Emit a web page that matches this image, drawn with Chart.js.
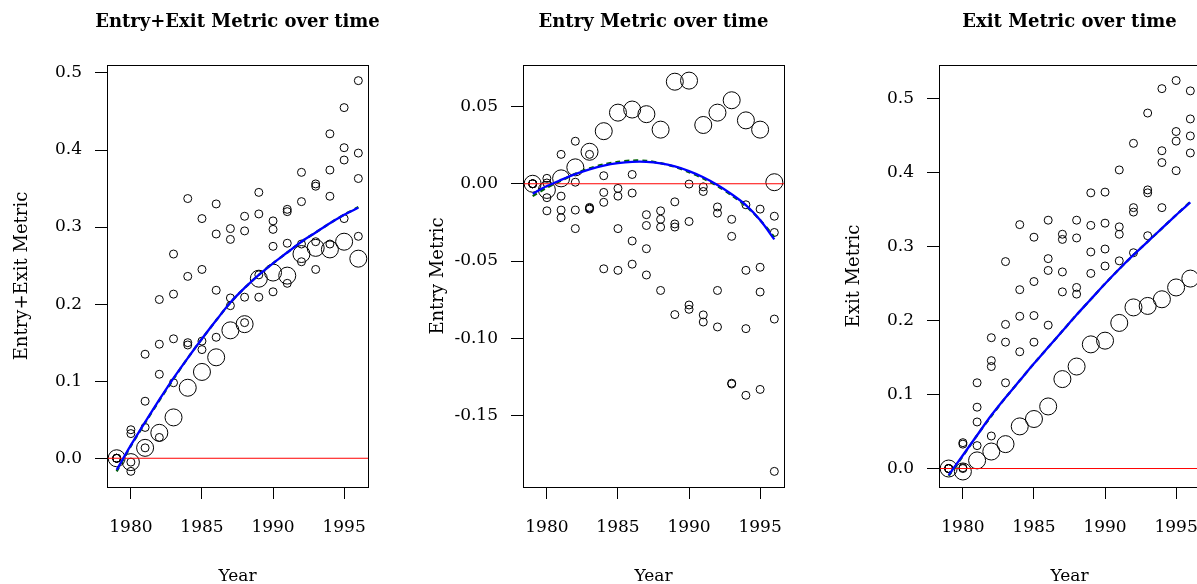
<!DOCTYPE html>
<html>
<head>
<meta charset="utf-8">
<script src="https://cdn.jsdelivr.net/npm/chart.js@4.4.1/dist/chart.umd.min.js"></script>
<style>
  html, body { margin: 0; padding: 0; background: #fff; overflow: hidden; width: 1197px; height: 584px; }
  .panel { position: absolute; top: 0; width: 398px; height: 584px; }
</style>
</head>
<body>
<div class="panel" style="left:0px"><canvas id="pBoth" width="398" height="584"></canvas></div>
<div class="panel" style="left:416px"><canvas id="pEntry" width="398" height="584"></canvas></div>
<div class="panel" style="left:832px"><canvas id="pExit" width="398" height="584"></canvas></div>
<script>
// years on the x axis
var years = [1979, 1980, 1981, 1982, 1983, 1984, 1985, 1986, 1987, 1988, 1989, 1990, 1991, 1992, 1993, 1994, 1995, 1996];
var xTicks = [1980, 1985, 1990, 1995];
var xRange = [1978.32, 1996.68];

// Entry+Exit metric: four small series (sorted high to low per year) + the big bubble series
var bothA = [0, 0.037, 0.135, 0.206, 0.265, 0.337, 0.311, 0.330, 0.298, 0.314, 0.345, 0.308, 0.323, 0.371, 0.356, 0.421, 0.455, 0.490];
var bothB = [0, 0.032, 0.074, 0.148, 0.213, 0.236, 0.245, 0.291, 0.284, 0.295, 0.317, 0.297, 0.320, 0.333, 0.353, 0.374, 0.403, 0.396];
var bothC = [0, -0.005, 0.040, 0.109, 0.155, 0.150, 0.152, 0.218, 0.208, 0.209, 0.238, 0.275, 0.279, 0.278, 0.281, 0.340, 0.387, 0.363];
var bothD = [0, -0.017, 0.0135, 0.027, 0.098, 0.147, 0.141, 0.157, 0.198, 0.176, 0.209, 0.216, 0.227, 0.255, 0.245, 0.278, 0.311, 0.288];
var bothBig = [0, -0.005, 0.0135, 0.033, 0.053, 0.0915, 0.112, 0.131, 0.166, 0.174, 0.233, 0.241, 0.237, 0.265, 0.273, 0.271, 0.281, 0.259];
var bothFit = [-0.015, 0.017, 0.047, 0.076, 0.104, 0.130, 0.155, 0.179, 0.202, 0.221, 0.238, 0.253, 0.267, 0.281, 0.293, 0.305, 0.316, 0.325];
var bothFit2 = [-0.017, 0.016, 0.046, 0.075, 0.103, 0.130, 0.155, 0.179, 0.202, 0.221, 0.238, 0.253, 0.267, 0.281, 0.293, 0.305, 0.316, 0.326];
var bothYTicks = [0, 0.1, 0.2, 0.3, 0.4, 0.5];
var bothYLabels = ['0.0', '0.1', '0.2', '0.3', '0.4', '0.5'];
var bothYRange = [-0.0373, 0.5103];

// Entry metric
var entryA = [0, 0.0035, 0.019, 0.0275, 0.019, 0.0052, -0.003, 0.006, -0.020, -0.0175, -0.0117, -0.0002, -0.002, -0.015, -0.023, -0.0136, -0.0164, -0.021];
var entryB = [0, 0.0005, -0.008, 0.001, -0.0153, -0.0056, -0.008, -0.006, -0.027, -0.023, -0.026, -0.0244, -0.005, -0.019, -0.034, -0.056, -0.054, -0.0315];
var entryC = [0, -0.009, -0.017, -0.017, -0.0158, -0.012, -0.029, -0.037, -0.042, -0.028, -0.028, -0.0784, -0.0848, -0.069, -0.129, -0.0937, -0.070, -0.0875];
var entryD = [0, -0.0175, -0.022, -0.029, -0.0164, -0.055, -0.056, -0.052, -0.059, -0.069, -0.0846, -0.0812, -0.0894, -0.0926, -0.1295, -0.1368, -0.133, -0.186];
var entryBig = [0, -0.004, 0.0035, 0.0106, 0.0207, 0.034, 0.046, 0.048, 0.045, 0.035, 0.066, 0.0667, 0.038, 0.046, 0.054, 0.041, 0.035, 0.001];
var entryFit = [-0.0065, -0.0015, 0.0025, 0.0062, 0.0093, 0.0118, 0.0134, 0.0142, 0.0142, 0.0132, 0.0112, 0.0082, 0.0042, -0.0008, -0.0068, -0.0138, -0.0235, -0.036];
var entryFit2 = [-0.008, -0.0025, 0.002, 0.0065, 0.010, 0.0125, 0.0142, 0.015, 0.0148, 0.0133, 0.011, 0.0075, 0.0035, -0.0015, -0.0075, -0.0145, -0.0235, -0.0345];
var entryYTicks = [-0.15, -0.10, -0.05, 0, 0.05];
var entryYLabels = ['-0.15', '-0.10', '-0.05', '0.00', '0.05'];
var entryYRange = [-0.1961, 0.0768];

// Exit metric
var exitA = [0, 0.035, 0.116, 0.177, 0.280, 0.330, 0.313, 0.336, 0.317, 0.336, 0.373, 0.374, 0.404, 0.440, 0.481, 0.514, 0.525, 0.511];
var exitB = [0, 0.033, 0.083, 0.146, 0.195, 0.242, 0.253, 0.284, 0.310, 0.312, 0.329, 0.332, 0.327, 0.353, 0.377, 0.430, 0.456, 0.473];
var exitC = [0, 0.001, 0.063, 0.138, 0.171, 0.206, 0.207, 0.268, 0.266, 0.245, 0.293, 0.297, 0.317, 0.347, 0.373, 0.414, 0.443, 0.450];
var exitD = [0, 0.000, 0.031, 0.044, 0.116, 0.158, 0.171, 0.194, 0.239, 0.236, 0.264, 0.274, 0.281, 0.292, 0.315, 0.353, 0.403, 0.427];
var exitBig = [0, -0.004, 0.011, 0.023, 0.033, 0.057, 0.067, 0.084, 0.121, 0.138, 0.168, 0.173, 0.197, 0.218, 0.220, 0.229, 0.245, 0.257];
var exitFit = [-0.009, 0.018, 0.045, 0.072, 0.096, 0.119, 0.142, 0.164, 0.186, 0.208, 0.229, 0.250, 0.270, 0.289, 0.307, 0.325, 0.343, 0.360];
var exitFit2 = [-0.010, 0.017, 0.045, 0.071, 0.096, 0.119, 0.142, 0.164, 0.186, 0.208, 0.229, 0.250, 0.270, 0.289, 0.307, 0.325, 0.343, 0.361];
var exitYTicks = [0, 0.1, 0.2, 0.3, 0.4, 0.5];
var exitYLabels = ['0.0', '0.1', '0.2', '0.3', '0.4', '0.5'];
var exitYRange = [-0.0250, 0.5460];

var FONT = '"DejaVu Serif", "Liberation Serif", serif';

function pts(vals) {
  return years.map(function (y, i) { return { x: y, y: vals[i] }; });
}

function bubbles(vals, r) {
  return {
    data: pts(vals),
    showLine: false,
    pointRadius: r,
    pointBackgroundColor: 'rgba(0,0,0,0)',
    pointBorderColor: '#000',
    pointBorderWidth: 1
  };
}

// box, title and axis titles
var framePlugin = {
  id: 'frame',
  afterDraw: function (chart, args, opts) {
    var ctx = chart.ctx, a = chart.chartArea;
    ctx.save();
    ctx.strokeStyle = '#000';
    ctx.lineWidth = 1;
    ctx.strokeRect(Math.round(a.left) + 0.5, Math.round(a.top) + 0.5, Math.round(a.right - a.left), Math.round(a.bottom - a.top));
    ctx.fillStyle = '#000';
    ctx.textAlign = 'center';
    ctx.textBaseline = 'alphabetic';
    ctx.font = 'bold 18px ' + FONT;
    ctx.fillText(opts.title, (a.left + a.right) / 2, 27);
    ctx.font = '17px ' + FONT;
    ctx.fillText('Year', (a.left + a.right) / 2, 581);
    ctx.font = '18px ' + FONT;
    ctx.translate(27, (a.top + a.bottom) / 2);
    ctx.rotate(-Math.PI / 2);
    ctx.fillText(opts.ylabel, 0, 0);
    ctx.restore();
  }
};

function makePanel(id, title, ylabel, s, fit, fit2, yTicks, yLabels, yRange) {
  var ctx = document.getElementById(id).getContext('2d');
  return new Chart(ctx, {
    type: 'scatter',
    data: {
      datasets: [
        { data: pts(fit), showLine: true, borderColor: '#0000FF', borderWidth: 2.3, pointRadius: 0, tension: 0.3 },
        { data: pts(fit2), showLine: true, borderColor: '#006400', borderWidth: 2.3, borderDash: [5, 4], pointRadius: 0, tension: 0.3 },
        { data: [{ x: xRange[0], y: 0 }, { x: xRange[1], y: 0 }], showLine: true, borderColor: '#FF0000', borderWidth: 1, pointRadius: 0 },
        bubbles(s[0], 4), bubbles(s[1], 4), bubbles(s[2], 4), bubbles(s[3], 4),
        bubbles(s[4], 8.5)
      ]
    },
    options: {
      responsive: false,
      animation: false,
      devicePixelRatio: 1,
      layout: { padding: { left: 0, right: 30, top: 65, bottom: 0 } },
      plugins: {
        legend: { display: false },
        tooltip: { enabled: false },
        frame: { title: title, ylabel: ylabel }
      },
      scales: {
        x: {
          type: 'linear',
          min: xRange[0],
          max: xRange[1],
          afterBuildTicks: function (sc) { sc.ticks = xTicks.map(function (v) { return { value: v }; }); },
          afterFit: function (sc) { sc.height = 97; },
          grid: { drawOnChartArea: false, drawTicks: true, tickLength: 12, color: '#000', lineWidth: 1 },
          border: { display: true, color: '#000' },
          ticks: { autoSkip: false, maxRotation: 0, padding: 18, color: '#000', font: { family: FONT, size: 17 },
            callback: function (v) { return String(v); } }
        },
        y: {
          type: 'linear',
          min: yRange[0],
          max: yRange[1],
          afterBuildTicks: function (sc) { sc.ticks = yTicks.map(function (v) { return { value: v }; }); },
          afterFit: function (sc) { sc.width = 107; },
          grid: { drawOnChartArea: false, drawTicks: true, tickLength: 12, color: '#000', lineWidth: 1 },
          border: { display: true, color: '#000' },
          ticks: { autoSkip: false, padding: 13, color: '#000', font: { family: FONT, size: 17 },
            callback: function (v) {
              var i = yTicks.findIndex(function (t) { return Math.abs(t - v) < 1e-9; });
              return i >= 0 ? yLabels[i] : '';
            } }
        }
      }
    },
    plugins: [framePlugin]
  });
}

makePanel('pBoth', 'Entry+Exit Metric over time', 'Entry+Exit Metric',
  [bothA, bothB, bothC, bothD, bothBig], bothFit, bothFit2, bothYTicks, bothYLabels, bothYRange);
makePanel('pEntry', 'Entry Metric over time', 'Entry Metric',
  [entryA, entryB, entryC, entryD, entryBig], entryFit, entryFit2, entryYTicks, entryYLabels, entryYRange);
makePanel('pExit', 'Exit Metric over time', 'Exit Metric',
  [exitA, exitB, exitC, exitD, exitBig], exitFit, exitFit2, exitYTicks, exitYLabels, exitYRange);
</script>
</body>
</html>
